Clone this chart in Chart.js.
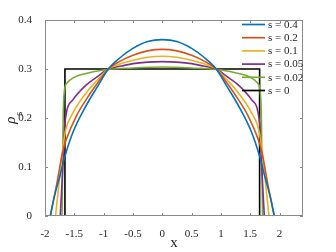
<!DOCTYPE html>
<html>
<head>
<meta charset="utf-8">
<script src="https://cdn.jsdelivr.net/npm/chart.js"></script>
<style>
  html, body { margin: 0; padding: 0; background: #fff; }
  #wrap { width: 336px; height: 252px; }
</style>
</head>
<body>
<div id="wrap"><canvas id="rhoChart" width="336" height="252"></canvas></div>
<script>
// values
const seriesLabels = ["s = 0.4", "s = 0.2", "s = 0.1", "s = 0.05", "s = 0.02", "s = 0"];
const seriesColors = ["#0072BD", "#D95319", "#EDB120", "#7E2F8E", "#77AC30", "#000000"];

const xS04 = [-1.91, -1.84, -1.75, -1.66, -1.52, -1.3, -1.1, -0.92, -0.7, -0.5, -0.25, 0, 0.25, 0.5, 0.7, 0.92, 1.1, 1.3, 1.52, 1.66, 1.75, 1.84, 1.91];
const yS04 = [0, 0.04, 0.08, 0.122, 0.172, 0.225, 0.265, 0.3, 0.325, 0.342, 0.356, 0.36, 0.356, 0.342, 0.325, 0.3, 0.265, 0.225, 0.172, 0.122, 0.08, 0.04, 0];

const xS02 = [-1.91, -1.8, -1.7, -1.64, -1.47, -1.24, -1.1, -0.92, -0.7, -0.5, -0.25, 0, 0.25, 0.5, 0.7, 0.92, 1.1, 1.24, 1.47, 1.64, 1.7, 1.8, 1.91];
const yS02 = [0, 0.065, 0.13, 0.155, 0.203, 0.248, 0.272, 0.3, 0.317, 0.328, 0.337, 0.34, 0.337, 0.328, 0.317, 0.3, 0.272, 0.248, 0.203, 0.155, 0.13, 0.065, 0];

const xS01 = [-1.82, -1.75, -1.66, -1.525, -1.24, -1.1, -0.92, -0.7, -0.5, -0.25, 0, 0.25, 0.5, 0.7, 0.92, 1.1, 1.24, 1.525, 1.66, 1.75, 1.82];
const yS01 = [0, 0.08, 0.168, 0.21, 0.26, 0.278, 0.3, 0.311, 0.318, 0.324, 0.326, 0.324, 0.318, 0.311, 0.3, 0.278, 0.26, 0.21, 0.168, 0.08, 0];

const xS005 = [-1.74, -1.7, -1.66, -1.525, -1.3, -1.1, -0.92, -0.7, -0.5, -0.25, 0, 0.25, 0.5, 0.7, 0.92, 1.1, 1.3, 1.525, 1.66, 1.7, 1.74];
const yS005 = [0, 0.09, 0.19, 0.237, 0.267, 0.285, 0.3, 0.306, 0.311, 0.314, 0.315, 0.314, 0.311, 0.306, 0.3, 0.285, 0.267, 0.237, 0.19, 0.09, 0];

const xS002 = [-1.71, -1.69, -1.67, -1.62, -1.52, -1.3, -1.0, -0.5, 0, 0.5, 1.0, 1.3, 1.52, 1.62, 1.67, 1.69, 1.71];
const yS002 = [0, 0.2, 0.255, 0.272, 0.282, 0.291, 0.298, 0.302, 0.304, 0.302, 0.298, 0.291, 0.282, 0.272, 0.255, 0.2, 0];

const xS0 = [-1.66, -1.66, 1.66, 1.66];
const yS0 = [0, 0.3, 0.3, 0];

const xTicks = [-2, -1.5, -1, -0.5, 0, 0.5, 1, 1.5, 2];
const yTicks = [0, 0.1, 0.2, 0.3, 0.4];

const allX = [xS04, xS02, xS01, xS005, xS002, xS0];
const allY = [yS04, yS02, yS01, yS005, yS002, yS0];

const FONT = "'Liberation Serif', 'DejaVu Serif', serif";
const TXT = "#262626";
const AXC = "#8a8a8a";

const pts = (xs, ys) => xs.map((x, i) => ({ x: x, y: ys[i] }));

// MATLAB-like box, inward ticks, axis labels and legend
const matlabLook = {
  id: "matlabLook",
  afterDraw(chart) {
    const { ctx, chartArea: a, scales } = chart;
    const sx = scales.x, sy = scales.y;
    ctx.save();
    ctx.strokeStyle = AXC;
    ctx.lineWidth = 1;
    ctx.strokeRect(a.left + 0.5, a.top + 0.5, a.right - a.left - 1, a.bottom - a.top - 1);
    ctx.beginPath();
    xTicks.forEach(v => {
      const px = Math.round(sx.getPixelForValue(v)) + 0.5;
      ctx.moveTo(px, a.bottom); ctx.lineTo(px, a.bottom - 3);
      ctx.moveTo(px, a.top); ctx.lineTo(px, a.top + 3);
    });
    yTicks.forEach(v => {
      const py = Math.round(sy.getPixelForValue(v)) + 0.5;
      ctx.moveTo(a.left, py); ctx.lineTo(a.left + 3, py);
      ctx.moveTo(a.right, py); ctx.lineTo(a.right - 3, py);
    });
    ctx.stroke();

    // x label
    ctx.fillStyle = TXT;
    ctx.font = "15px " + FONT;
    ctx.textAlign = "center";
    ctx.textBaseline = "alphabetic";
    ctx.fillText("x", (a.left + a.right) / 2, 247);

    // y label: rho with subscript s
    ctx.save();
    ctx.translate(15, (a.top + a.bottom) / 2);
    ctx.rotate(-Math.PI / 2);
    ctx.font = "italic 15px " + FONT;
    const wr = ctx.measureText("ρ").width;
    ctx.font = "11px " + FONT;
    const ws = ctx.measureText("s").width;
    const x0 = -(wr + ws) / 2;
    ctx.textAlign = "left";
    ctx.font = "italic 15px " + FONT;
    ctx.fillText("ρ", x0, 0);
    ctx.font = "11px " + FONT;
    ctx.fillText("s", x0 + wr + 0.5, 7);
    ctx.restore();

    // legend (no box), inside top-right
    ctx.font = "11px " + FONT;
    ctx.textAlign = "left";
    ctx.textBaseline = "middle";
    chart.data.datasets.forEach((ds, i) => {
      const y = 24.5 + i * 13.2;
      ctx.strokeStyle = ds.borderColor;
      ctx.lineWidth = 1.7;
      ctx.beginPath();
      ctx.moveTo(242, y); ctx.lineTo(265, y);
      ctx.stroke();
      ctx.fillStyle = TXT;
      ctx.fillText(ds.label, 268, y + 0.5);
    });
    ctx.restore();
  }
};

new Chart(document.getElementById("rhoChart"), {
  type: "line",
  data: {
    datasets: seriesLabels.map((lab, i) => ({
      label: lab,
      data: pts(allX[i], allY[i]),
      borderColor: seriesColors[i],
      borderWidth: 1.6,
      pointRadius: 0,
      fill: false,
      cubicInterpolationMode: i < 5 ? "monotone" : "default",
      tension: 0,
      clip: 3
    }))
  },
  options: {
    responsive: false,
    animation: false,
    events: [],
    layout: { padding: { top: 20, right: 33, left: 0, bottom: 0 } },
    plugins: {
      legend: { display: false },
      title: { display: false },
      tooltip: { enabled: false }
    },
    scales: {
      x: {
        type: "linear",
        min: -2, max: 2.4,
        afterBuildTicks: s => { s.ticks = xTicks.map(v => ({ value: v })); },
        afterFit: s => { s.height = 36; },
        grid: { display: false },
        border: { display: false },
        ticks: {
          autoSkip: false, maxRotation: 0, padding: 4,
          color: TXT, font: { family: FONT, size: 11 },
          callback: v => String(v)
        }
      },
      y: {
        type: "linear",
        min: 0, max: 0.4,
        afterBuildTicks: s => { s.ticks = yTicks.map(v => ({ value: v })); },
        afterFit: s => { s.width = 45; },
        grid: { display: false },
        border: { display: false },
        ticks: {
          padding: 5,
          color: TXT, font: { family: FONT, size: 11 },
          callback: v => String(v)
        }
      }
    }
  },
  plugins: [matlabLook]
});
</script>
</body>
</html>
